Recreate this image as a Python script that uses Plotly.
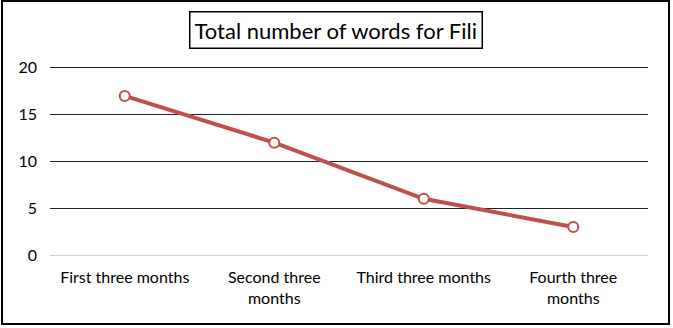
import plotly.graph_objects as go

categories = ["First three months", "Second three<br>months", "Third three months", "Fourth three<br>months"]
words = [17, 12, 6, 3]
title_text = "Total number of words for Fili"

W, H = 673, 328
L, R, T, B = 50, 25, 65, 73
pw, ph = W - L - R, H - T - B

def px2x(px):
    return (px - L) / pw

def py2y(py):
    return (H - B - py) / ph

fig = go.Figure()
fig.add_trace(go.Scatter(
    x=list(range(len(categories))), y=words, mode="lines+markers",
    line=dict(color="#C0504D", width=4),
    marker=dict(size=10, color="white", line=dict(color="#C0504D", width=2)),
    hoverinfo="skip",
))

fig.update_layout(
    width=W, height=H,
    margin=dict(l=L, r=R, t=T, b=B),
    paper_bgcolor="white", plot_bgcolor="white",
    showlegend=False,
    font=dict(family="Lato, Open Sans, sans-serif", color="#000"),
    xaxis=dict(
        tickmode="array", tickvals=list(range(len(categories))), ticktext=categories,
        range=[-0.5, len(categories) - 0.5], showgrid=False, zeroline=False,
        showline=False, ticks="", tickfont=dict(size=16), ticklabelstandoff=11,
    ),
    yaxis=dict(
        range=[0, 20.3], tickvals=[0, 5, 10, 15, 20], showgrid=True,
        gridcolor="#222", gridwidth=1, zeroline=True, zerolinecolor="#d0d0d0",
        zerolinewidth=1, showline=False, ticks="", tickfont=dict(size=16),
        ticklabelstandoff=12,
    ),
    annotations=[dict(
        text=title_text, xref="paper", yref="paper",
        x=px2x(336), y=py2y(30), xanchor="center", yanchor="middle",
        showarrow=False, font=dict(size=22, color="#000"),
        bordercolor="#000", borderwidth=1.5, borderpad=4, bgcolor="white",
    )],
    shapes=[dict(
        type="rect", xref="paper", yref="paper",
        x0=px2x(2), x1=px2x(669), y0=py2y(324), y1=py2y(1),
        line=dict(color="#000", width=2), layer="below",
    )],
)

fig.write_html("out.html")
